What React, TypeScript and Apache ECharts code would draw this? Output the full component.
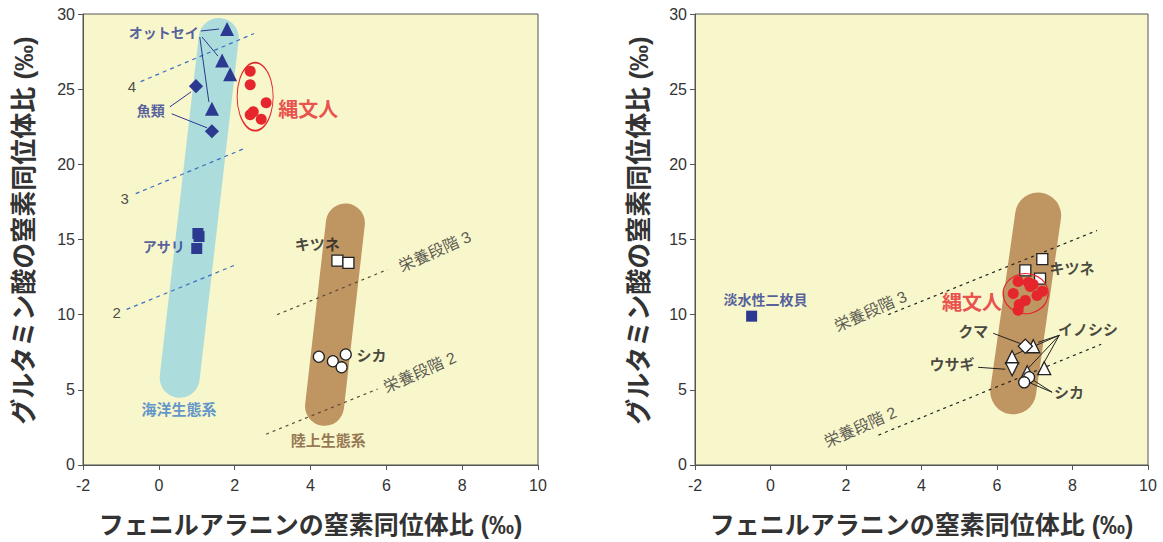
import React, { useEffect, useRef } from "react";
import * as echarts from "echarts";

// ---------- axes ----------
const xMin = -2, xMax = 10, xStep = 2;
const yMin = 0, yMax = 30, yStep = 5;
const xName = "フェニルアラニンの窒素同位体比 (‰)";
const yName = "グルタミン酸の窒素同位体比 (‰)";

// ---------- left panel ----------
const marineBand = [[1.58, 28.4], [0.55, 5.8]];
const terrBandL = [[4.92, 16.1], [4.37, 3.9]];
const furSeal = [[1.80, 29.0], [1.67, 26.9], [1.88, 26.0], [1.40, 23.7]];
const fish = [[0.98, 25.2], [1.40, 22.2]];
const clam = [[1.03, 15.4], [1.06, 15.2], [1.0, 14.4]];
const jomonL = [[2.41, 26.2], [2.41, 25.3], [2.83, 24.1], [2.49, 23.5], [2.41, 23.3], [2.70, 23.0]];
const jomonEllipseL = [[2.54, 24.5]];
const foxL = [[4.71, 13.6], [5.0, 13.45]];
const deerL = [[4.22, 7.2], [4.59, 6.9], [4.82, 6.5], [4.93, 7.35]];
const marineTL4 = [[-0.48, 25.5], [2.51, 28.7]];
const marineTL3 = [[-0.61, 18.05], [2.30, 21.1]];
const marineTL2 = [[-0.85, 10.35], [2.06, 13.35]];
const terrTL3L = [[3.12, 10.0], [6.03, 13.0]];
const terrTL2L = [[2.83, 2.05], [5.77, 5.05]];
const leadersL = [
  [[1.11, 28.87], [1.59, 29.0]],
  [[1.14, 28.47], [1.56, 27.2]],
  [[1.08, 28.47], [1.32, 24.15]],
  [[0.29, 23.82], [0.85, 24.82]],
  [[0.34, 23.36], [1.27, 22.43]],
];

// ---------- right panel ----------
const terrBandR = [[7.09, 16.6], [6.43, 4.9]];
const freshClam = [[-0.5, 9.9]];
const foxR = [[7.2, 13.7], [6.75, 12.95], [7.14, 12.4]];
const jomonR = [[6.56, 12.2], [6.83, 12.14], [6.96, 12.0], [6.88, 11.88], [7.2, 11.55], [7.06, 11.28], [6.43, 11.41], [6.75, 10.95], [6.59, 10.68], [6.56, 10.29]];
const jomonEllipseR = [[6.76, 11.4]];
const boarR = [[6.96, 7.9], [6.40, 7.17], [6.8, 6.17], [7.25, 6.44]];
const bearR = [[6.75, 7.9]];
const hareR = [[6.40, 6.37]];
const deerR = [[6.85, 5.84], [6.72, 5.5]];
const terrTL3R = [[3.12, 10.0], [8.65, 15.6]];
const terrTL2R = [[2.86, 1.99], [8.76, 8.03]];
const leadersR = [
  [[5.90, 8.76], [6.67, 8.03]],
  [[7.65, 8.63], [7.09, 8.16]],
  [[7.65, 8.63], [6.43, 7.30]],
  [[7.65, 8.63], [6.80, 6.37]],
  [[7.65, 8.63], [7.22, 6.70]],
  [[5.50, 6.5], [6.22, 6.37]],
  [[7.46, 4.84], [6.83, 5.51]],
  [[7.46, 4.84], [6.88, 5.77]],
];

// ---------- text labels: [text, x, y, kind, rotate] ----------
const labelsL: [string, number, number, string, number][] = [
  ["オットセイ", 0.13, 28.73, "navy", 0],
  ["魚類", -0.21, 23.56, "navy", 0],
  ["アサリ", 0.13, 14.47, "navy", 0],
  ["縄文人", 3.94, 23.62, "red", 0],
  ["キツネ", 4.18, 14.66, "black", 0],
  ["シカ", 5.61, 7.3, "black", 0],
  ["海洋生態系", 0.53, 3.72, "marine", 0],
  ["陸上生態系", 4.47, 1.66, "terr", 0],
  ["4", -0.71, 25.2, "num", 0],
  ["3", -0.90, 17.7, "num", 0],
  ["2", -1.11, 10.15, "num", 0],
  ["栄養段階 3", 7.28, 14.2, "tl", 24],
  ["栄養段階 2", 6.88, 6.17, "tl", 24],
];
const labelsR: [string, number, number, string, number][] = [
  ["淡水性二枚貝", -0.13, 10.95, "navy", 0],
  ["縄文人", 5.34, 10.75, "red", 0],
  ["キツネ", 7.99, 13.07, "black", 0],
  ["クマ", 5.37, 8.89, "black", 0],
  ["イノシシ", 8.41, 9.02, "black", 0],
  ["ウサギ", 4.81, 6.7, "black", 0],
  ["シカ", 7.91, 4.84, "black", 0],
  ["栄養段階 3", 2.65, 10.22, "tl", 24],
  ["栄養段階 2", 2.38, 2.52, "tl", 24],
];

const C = {
  bg: "#f8f6cb",
  axis: "#555555",
  text: "#333333",
  navy: "#2b3990",
  red: "#e5262d",
  marineBand: "#acdcdb",
  terrBand: "#bf9562",
  blueDash: "#3b6fc2",
  brownDash: "#5a4a3a",
  marineText: "#3b7dc9",
  terrText: "#7b5534",
};
const FONT = '"Liberation Sans", "Noto Sans CJK JP", sans-serif';

const labelStyle: Record<string, any> = {
  navy: { color: C.navy, fontSize: 14, fontWeight: "bold" },
  red: { color: C.red, fontSize: 20, fontWeight: "bold" },
  black: { color: "#1a1a1a", fontSize: 15, fontWeight: "bold" },
  marine: { color: C.marineText, fontSize: 15, fontWeight: "bold" },
  terr: { color: C.terrText, fontSize: 15, fontWeight: "bold" },
  num: { color: "#222", fontSize: 15, fontWeight: "normal" },
  tl: { color: "#333", fontSize: 16, fontWeight: "normal" },
};

function makeAxes(gi: number, yGap: number) {
  const common = {
    gridIndex: gi,
    type: "value" as const,
    nameLocation: "middle" as const,
    axisLine: { show: true, onZero: false, lineStyle: { color: C.axis, width: 1 } },
    axisTick: { show: true, inside: false, length: 5, lineStyle: { color: C.axis } },
    splitLine: { show: false },
  };
  return {
    x: {
      ...common, min: xMin, max: xMax, interval: xStep, name: xName, nameGap: 47,
      nameTextStyle: { fontSize: 25, fontWeight: "bold", color: C.text, fontFamily: FONT },
      axisLabel: { fontSize: 16, color: C.text, fontFamily: FONT, margin: 12 },
    },
    y: {
      ...common, min: yMin, max: yMax, interval: yStep, name: yName, nameGap: yGap,
      nameTextStyle: { fontSize: 26, fontWeight: "bold", color: C.text, fontFamily: FONT, padding: [0, 0, 0, 18] },
      axisLabel: { fontSize: 16, color: C.text, fontFamily: FONT, margin: 8 },
    },
  };
}

function lineSeries(gi: number, data: number[][], color: string, width: number, type: any = "solid", cap: any = "butt", z = 2) {
  return {
    type: "line",
    xAxisIndex: gi,
    yAxisIndex: gi,
    data,
    showSymbol: false,
    symbol: "none",
    silent: true,
    z,
    lineStyle: { color, width, type, cap },
  };
}

function scatter(gi: number, data: number[][], symbol: string, size: any, fill: string, stroke: string, rotate = 0, z = 5) {
  return {
    type: "scatter",
    xAxisIndex: gi,
    yAxisIndex: gi,
    data,
    symbol,
    symbolSize: size,
    symbolRotate: rotate,
    silent: true,
    z,
    itemStyle: { color: fill, borderColor: stroke, borderWidth: stroke === "none" ? 0 : 1.3, opacity: 1 },
  };
}

function textSeries(gi: number, labels: [string, number, number, string, number][]) {
  return {
    type: "scatter",
    xAxisIndex: gi,
    yAxisIndex: gi,
    symbolSize: 1,
    silent: true,
    z: 10,
    itemStyle: { color: "transparent" },
    data: labels.map(([t, x, y, kind, rot]) => ({
      name: t,
      value: [x, y],
      label: {
        show: true,
        position: "inside",
        formatter: t,
        rotate: rot,
        fontFamily: FONT,
        ...labelStyle[kind],
      },
    })),
  };
}

export default function App() {
  const ref = useRef<HTMLDivElement>(null);
  useEffect(() => {
    if (!ref.current) return;
    const chart = echarts.init(ref.current, undefined, { renderer: "svg" });
    const a0 = makeAxes(0, 46);
    const a1 = makeAxes(1, 43);
    const series: any[] = [
      // left
      lineSeries(0, marineBand, C.marineBand, 40, "solid", "round", 1),
      lineSeries(0, terrBandL, C.terrBand, 39, "solid", "round", 1),
      lineSeries(0, marineTL4, C.blueDash, 1.2, [4, 4]),
      lineSeries(0, marineTL3, C.blueDash, 1.2, [4, 4]),
      lineSeries(0, marineTL2, C.blueDash, 1.2, [4, 4]),
      lineSeries(0, terrTL3L, C.brownDash, 1.2, [3, 4]),
      lineSeries(0, terrTL2L, C.brownDash, 1.2, [3, 4]),
      ...leadersL.map((d) => lineSeries(0, d, C.navy, 1)),
      scatter(0, furSeal, "triangle", 14, C.navy, "none"),
      scatter(0, fish, "rect", 10, C.navy, "none", 45),
      scatter(0, clam, "rect", 11, C.navy, "none"),
      scatter(0, jomonL, "circle", 11, C.red, "none"),
      scatter(0, jomonEllipseL, "circle", [36, 68], "transparent", C.red, 0, 4),
      scatter(0, foxL, "rect", 11, "#ffffff", "#222"),
      scatter(0, deerL, "circle", 11, "#ffffff", "#222"),
      textSeries(0, labelsL),
      // right
      lineSeries(1, terrBandR, C.terrBand, 46, "solid", "round", 1),
      lineSeries(1, terrTL3R, "#222", 1.2, [3, 4]),
      lineSeries(1, terrTL2R, "#222", 1.2, [3, 4]),
      ...leadersR.map((d) => lineSeries(1, d, "#222", 1)),
      scatter(1, freshClam, "rect", 11, C.navy, "none"),
      scatter(1, foxR, "rect", 11, "#ffffff", "#222"),
      scatter(1, jomonR, "circle", 11, C.red, "none", 0, 6),
      scatter(1, jomonEllipseR, "circle", [45, 40], "transparent", C.red, 0, 7),
      scatter(1, boarR, "triangle", 13, "#ffffff", "#222"),
      scatter(1, bearR, "rect", 10, "#ffffff", "#222", 45),
      scatter(1, hareR, "triangle", 13, "#ffffff", "#222", 180),
      scatter(1, deerR, "circle", 11, "#ffffff", "#222"),
      textSeries(1, labelsR),
    ];
    chart.setOption({
      animation: false,
      grid: [
        { left: 83, top: 14, width: 455, height: 452, show: true, backgroundColor: C.bg, borderColor: C.axis, borderWidth: 1 },
        { left: 695, top: 14, width: 453, height: 452, show: true, backgroundColor: C.bg, borderColor: C.axis, borderWidth: 1 },
      ],
      xAxis: [a0.x, a1.x],
      yAxis: [a0.y, a1.y],
      series,
    });
    return () => chart.dispose();
  }, []);
  return (
    <div
      ref={ref}
      style={{ position: "fixed", left: 0, top: 0, width: 1163, height: 542, background: "#ffffff" }}
    />
  );
}
